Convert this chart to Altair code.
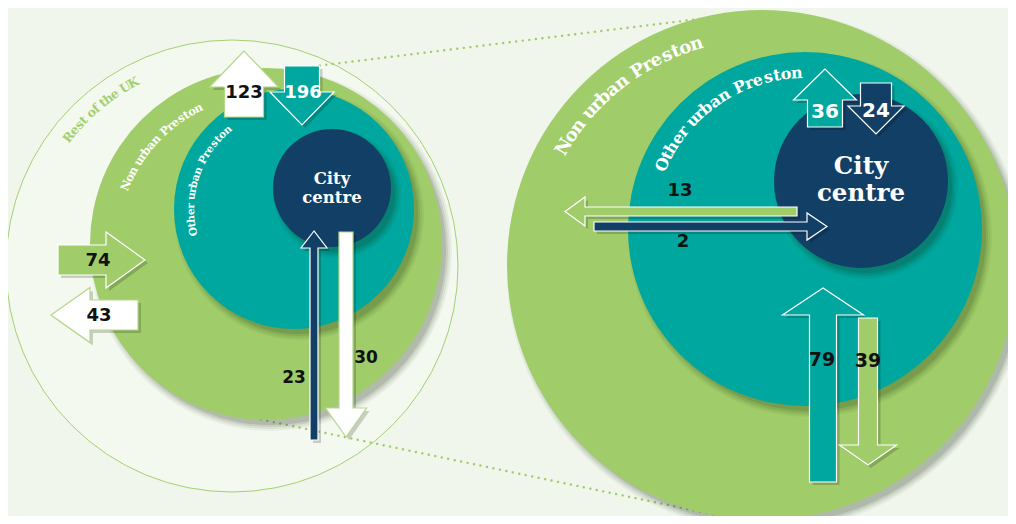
import math
import altair as alt
import pandas as pd

# ---------------- data ----------------
regions = ["Rest of the UK", "Non urban Preston", "Other urban Preston", "City centre"]
left_flows = [123, 196, 74, 43, 23, 30]     # overall Preston flows (left diagram)
right_flows = [36, 24, 13, 2, 79, 39]       # within-Preston flows (right diagram)

# ---------------- styling ----------------
BG = "#f0f6eb"
GREEN = "#a0cd69"
TEAL = "#00a79e"
NAVY = "#123f66"
WHITE = "#ffffff"
LINEGREEN = "#a3d072"
SERIF = "DejaVu Serif"
SANS = "DejaVu Sans"

# ---------------- layout (image pixel coordinates) ----------------
circles = [
    (266, 244, 176, GREEN), (294, 209, 120, TEAL), (332, 188, 59, NAVY),
    (762, 265, 255, GREEN), (805, 229, 177, TEAL), (861, 181, 87, NAVY),
]
outer = (232, 266, 226)

# vertical arrows: value, centre x, shaft width, tail y, head-base y, head width, tip y, fill, stroke
v_arrows = [
    (left_flows[0], 244, 39, 117, 87, 69, 51, WHITE, "#b5d88c"),
    (left_flows[1], 302, 35, 66, 92, 64, 125, TEAL, WHITE),
    (left_flows[4], 314, 8, 440, 248, 26, 231, NAVY, WHITE),
    (left_flows[5], 346, 14, 232, 408, 41, 437, WHITE, "#b5d88c"),
    (right_flows[0], 825, 35, 127, 100, 63, 69, TEAL, WHITE),
    (right_flows[1], 876, 31, 83, 106, 56, 134, NAVY, WHITE),
    (right_flows[4], 823, 27, 482, 315, 81, 288, TEAL, WHITE),
    (right_flows[5], 868, 19, 318, 445, 57, 465, GREEN, WHITE),
]
# horizontal arrows: value, centre y, shaft width, tail x, head-base x, head width, tip x, fill, stroke
h_arrows = [
    (left_flows[2], 260, 30, 58, 106, 56, 145, GREEN, WHITE),
    (left_flows[3], 315, 30, 138, 90, 55, 51, WHITE, "#b5d88c"),
    (right_flows[2], 211.5, 9, 797, 585, 29, 565, GREEN, WHITE),
    (right_flows[3], 226.5, 9, 594, 807, 27, 827, NAVY, WHITE),
]
num_pos = [
    (244, 93, "#111111", 18), (303, 93, WHITE, 18), (98, 261, "#111111", 18),
    (99, 316, "#111111", 18), (294, 378, "#111111", 17), (366, 358, "#111111", 17),
    (825, 112, WHITE, 20), (876, 111, WHITE, 20), (680, 191, "#111111", 18),
    (683, 242, "#111111", 18), (822, 360, "#111111", 19), (868, 361, "#111111", 19),
]
arc_labels = [
    (0, 232, 266, 208, 217, 243, "#a3d072", 12.5),
    (1, 266, 244, 151, 201, 245, WHITE, 11.5),
    (2, 294, 209, 103, 165, 232, WHITE, 10.5),
    (1, 762, 265, 230, 209, 255, WHITE, 18),
    (2, 805, 229, 156, 202, 269, WHITE, 16),
]

# ---------------- scales ----------------
X = alt.Scale(domain=[8, 1008], nice=False, zero=False)
Y = alt.Scale(domain=[8, 516], nice=False, zero=False, reverse=True)


def xq(f="x"):
    return alt.X(f"{f}:Q", scale=X, axis=None)


def yq(f="y"):
    return alt.Y(f"{f}:Q", scale=Y, axis=None)


def sq():
    return alt.Size("s:Q", scale=None)


# ---------------- circles ----------------
# Vega symbol size is the area of the bounding square: (2r)^2
layers = []
outer_df = pd.DataFrame([dict(x=outer[0], y=outer[1], s=(2 * outer[2]) ** 2)])
layers.append(alt.Chart(outer_df).mark_circle(
    fill="#f4f9f0", fillOpacity=1, stroke=LINEGREEN, strokeWidth=1, opacity=1
).encode(x=xq(), y=yq(), size=sq()))

dots_df = pd.DataFrame([
    dict(l=0, x=300, y=68), dict(l=0, x=740, y=14),
    dict(l=1, x=235, y=414), dict(l=1, x=730, y=518),
])
layers.append(alt.Chart(dots_df).mark_line(
    color="#9fcd69", strokeWidth=2.4, strokeDash=[0.1, 6.5], strokeCap="round"
).encode(x=xq(), y=yq(), detail="l:N"))

for (cx, cy, r, fill) in circles:
    sh = pd.DataFrame([dict(x=cx + 5, y=cy + 6, s=(2 * (r + dr)) ** 2, op=op)
                       for dr, op in [(5, 0.05), (3, 0.07), (1, 0.09), (-1, 0.12)]])
    layers.append(alt.Chart(sh).mark_circle(color="#1a2a10", opacity=1).encode(
        x=xq(), y=yq(), size=sq(), opacity=alt.Opacity("op:Q", scale=None)))
    cd = pd.DataFrame([dict(x=cx, y=cy, s=(2 * r) ** 2)])
    layers.append(alt.Chart(cd).mark_circle(opacity=1, strokeWidth=0, fill=fill, fillOpacity=1).encode(
        x=xq(), y=yq(), size=sq()))


# ---------------- arrows ----------------
def profile(tail, base, tip, c, sw, hw):
    """rows along the arrow axis, sorted ascending with ties arranged so the outline is valid"""
    shaft = [(tail, c - sw / 2, c + sw / 2), (base, c - sw / 2, c + sw / 2)]
    head = [(base, c - hw / 2, c + hw / 2), (tip, c, c)]
    pts = shaft + head
    if tip < tail:
        pts = pts[::-1]
    return pts


def v_arrow(a):
    val, cx, sw, tail, base, hw, tip, fill, stroke = a
    out = []
    for d, st in [(3, "shadow"), (0, "main")]:
        df = pd.DataFrame([dict(y=p[0] + d, x=p[1] + d, x2=p[2] + d)
                           for p in profile(tail, base, tip, cx, sw, hw)])
        if st == "shadow":
            m = alt.Chart(df).mark_area(orient="horizontal", fill="#000000", fillOpacity=0.18,
                                        strokeWidth=0, interpolate="linear")
        else:
            m = alt.Chart(df).mark_area(orient="horizontal", fill=fill, fillOpacity=1, stroke=stroke,
                                        strokeWidth=1.2, interpolate="linear")
        out.append(m.encode(y=alt.Y("y:Q", scale=Y, axis=None, sort=None),
                            x=alt.X("x:Q", scale=X, axis=None, stack=None), x2="x2:Q"))
    return out


def h_arrow(a):
    val, cy, sw, tail, base, hw, tip, fill, stroke = a
    out = []
    for d, st in [(3, "shadow"), (0, "main")]:
        df = pd.DataFrame([dict(x=p[0] + d, y=p[1] + d, y2=p[2] + d)
                           for p in profile(tail, base, tip, cy, sw, hw)])
        if st == "shadow":
            m = alt.Chart(df).mark_area(orient="vertical", fill="#000000", fillOpacity=0.18,
                                        strokeWidth=0, interpolate="linear")
        else:
            m = alt.Chart(df).mark_area(orient="vertical", fill=fill, fillOpacity=1, stroke=stroke,
                                        strokeWidth=1.2, interpolate="linear")
        out.append(m.encode(x=alt.X("x:Q", scale=X, axis=None, sort=None),
                            y=alt.Y("y:Q", scale=Y, axis=None, stack=None), y2="y2:Q"))
    return out


for a in h_arrows:
    layers += h_arrow(a)
for a in v_arrows:
    layers += v_arrow(a)

# ---------------- texts ----------------
def cw(ch):
    if ch == " ":
        return 0.32
    if ch in "iljtfr":
        return 0.38
    if ch in "mw":
        return 0.9
    if ch.isupper():
        return 0.72
    return 0.6


arc_rows = []
for li, (ri, cx, cy, rad, a0, a1, col, fs) in enumerate(arc_labels):
    text = regions[ri]
    ws = [cw(c) for c in text]
    tot = sum(ws)
    acc = 0.0
    for j, (c, w) in enumerate(zip(text, ws)):
        frac = (acc + w / 2) / tot
        acc += w
        if c == " ":
            continue
        ang = a0 + (a1 - a0) * frac
        th = math.radians(ang)
        arc_rows.append(dict(x=cx + rad * math.cos(th), y=cy + rad * math.sin(th),
                             a=(ang + 90) % 360, t=c, c=col, s=fs))
arc_df = pd.DataFrame(arc_rows)
layers.append(alt.Chart(arc_df).mark_text(font=SERIF, fontWeight="bold", align="center",
                                          baseline="middle").encode(
    x=xq(), y=yq(), text="t:N", angle=alt.Angle("a:Q", scale=None),
    color=alt.Color("c:N", scale=None), size=sq()))

values = left_flows + right_flows
num_df = pd.DataFrame([dict(x=p[0], y=p[1], t=str(v), c=p[2], s=p[3]) for v, p in zip(values, num_pos)])
layers.append(alt.Chart(num_df).mark_text(font=SANS, fontWeight="bold", align="center",
                                          baseline="middle").encode(
    x=xq(), y=yq(), text="t:N", color=alt.Color("c:N", scale=None), size=sq()))

city_words = regions[3].split()
city_df = pd.DataFrame([
    dict(x=332, y=179, t=city_words[0], s=16.5),
    dict(x=332, y=198, t=city_words[1], s=16.5),
    dict(x=861, y=167, t=city_words[0], s=24.5),
    dict(x=861, y=194, t=city_words[1], s=24.5),
])
layers.append(alt.Chart(city_df).mark_text(font=SERIF, fontWeight="bold", align="center",
                                           baseline="middle", color=WHITE).encode(
    x=xq(), y=yq(), text="t:N", size=sq()))

chart = alt.layer(*layers).properties(
    width=1000, height=508, padding=0, autosize=alt.AutoSizeParams(type="none"), background=BG
).configure_view(stroke=None)

chart.save("out.html", embed_options={"renderer": "svg", "actions": False})
